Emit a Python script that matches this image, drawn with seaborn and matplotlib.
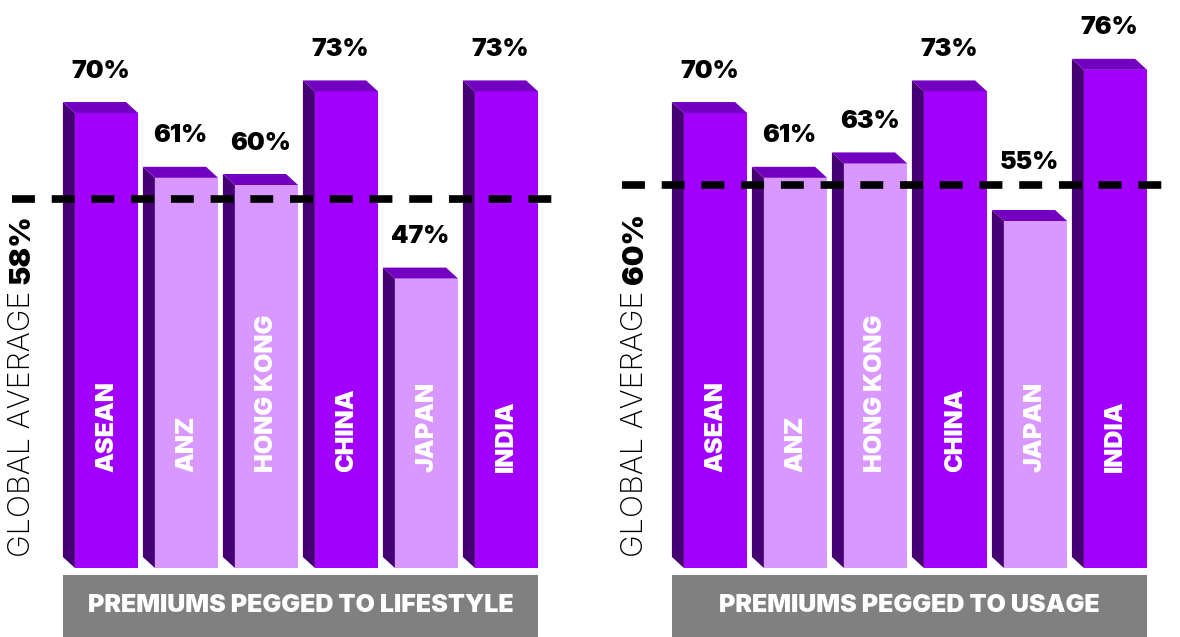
import pandas as pd
import matplotlib
matplotlib.use('Agg')
import matplotlib.pyplot as plt
from matplotlib.patches import Polygon, Rectangle
import seaborn as sns

regions = ['ASEAN', 'ANZ', 'HONG KONG', 'CHINA', 'JAPAN', 'INDIA']
lifestyle = [70, 61, 60, 73, 47, 73]
usage = [70, 61, 63, 73, 55, 76]
lifestyle_avg = 58
usage_avg = 60
titles = ['PREMIUMS PEGGED TO LIFESTYLE', 'PREMIUMS PEGGED TO USAGE']

DARK = '#A100FF'
LIGHT = '#D998FF'
SIDE = '#460073'
TOP = '#7300C0'
GREY = '#808080'
shade = [DARK, LIGHT, LIGHT, DARK, LIGHT, DARK]

sns.set_style('white')
plt.rcParams['font.family'] = ['Inter', 'DejaVu Sans']

fig = plt.figure(figsize=(11.8, 6.37), dpi=100)


def panel(rect, xlim, values, avg, title, line_span, label_x):
    ax = fig.add_axes(rect)
    df = pd.DataFrame({'region': regions, 'value': values})
    sns.barplot(data=df, x='region', y='value', hue='region', palette=shade,
                width=0.79, saturation=1, linewidth=0, legend=False, ax=ax,
                zorder=2)
    ax.set_xlim(*xlim)
    # the infographic's bars are cut off at the bottom, like a truncated axis
    ax.set_ylim(6.8, 85.7)
    ax.axis('off')
    base = ax.get_ylim()[0]

    # depth of the fake 3d prism: 12 px to the left, 11 px up
    inv = ax.transData.inverted()
    p0 = inv.transform((0, 0))
    p1 = inv.transform((12, 11))
    dx, dy = p1 - p0
    ppu = 11 / dy  # pixels per percentage point

    bars = sorted(ax.patches, key=lambda b: b.get_x())
    for bar in bars:
        x0, w, h = bar.get_x(), bar.get_width(), bar.get_height()
        i = int(round(x0 + w / 2))
        side = Polygon([(x0, base), (x0, h), (x0 - dx, h + dy), (x0 - dx, base + dy)],
                       closed=True, facecolor=SIDE, edgecolor='none', zorder=2)
        top = Polygon([(x0, h), (x0 + w, h), (x0 + w - dx, h + dy), (x0 - dx, h + dy)],
                      closed=True, facecolor=TOP, edgecolor='none', zorder=2)
        ax.add_patch(side)
        ax.add_patch(top)

        # keep the percentage clear of the dashed average line
        label_y, off = h + dy, 14
        if h < avg and h + dy + 44 / ppu > avg:
            label_y, off = avg, 8
        ax.annotate(f'{values[i]}%', xy=(x0 + (w - dx) / 2, label_y),
                    xytext=(0, off), textcoords='offset points',
                    ha='center', va='bottom', fontsize=18, fontweight='black',
                    color='black')
        ax.text(x0 + w / 2, 0.169, regions[i], transform=ax.get_xaxis_transform(),
                rotation=90, ha='center', va='bottom', fontsize=18,
                fontweight='black', color='white', zorder=4)

    ax.axhline(avg, xmin=line_span[0], xmax=line_span[1], color='black',
               linewidth=5.5, linestyle=(0, (3, 2.2)), dash_capstyle='butt',
               zorder=3)

    # rotated "GLOBAL AVERAGE xx%" label
    t1 = ax.text(label_x, 0.019, 'GLOBAL AVERAGE', transform=ax.transAxes,
                 rotation=90, ha='center', va='bottom', fontsize=22,
                 fontweight='light', color='black')
    ax.annotate(f'{avg}%', xy=(0.5, 1), xycoords=t1, xytext=(0, 5),
                textcoords='offset points', rotation=90, ha='center',
                va='bottom', fontsize=21, fontweight='black', color='black')

    # grey caption box under the bars
    left = bars[0].get_x() - dx
    right = bars[-1].get_x() + bars[-1].get_width()
    box = Rectangle((left, -0.1215), right - left, 0.1092,
                    transform=ax.get_xaxis_transform(), facecolor=GREY,
                    edgecolor='none', clip_on=False)
    ax.add_patch(box)
    ax.text((left + right) / 2, -0.0669, title, transform=ax.get_xaxis_transform(),
            ha='center', va='center', fontsize=18, fontweight='black',
            color='white')
    return ax


panel([0, 69 / 637, 590 / 1180, 568 / 637], (-106.5 / 80, 483.5 / 80),
      lifestyle, lifestyle_avg, titles[0], (12 / 590, 562 / 590), 22 / 590)
panel([600 / 1180, 69 / 637, 580 / 1180, 568 / 637], (-115.5 / 80, 464.5 / 80),
      usage, usage_avg, titles[1], (22 / 580, 572 / 580), 35 / 580)

fig.savefig('out.png', dpi=100, facecolor='white')
